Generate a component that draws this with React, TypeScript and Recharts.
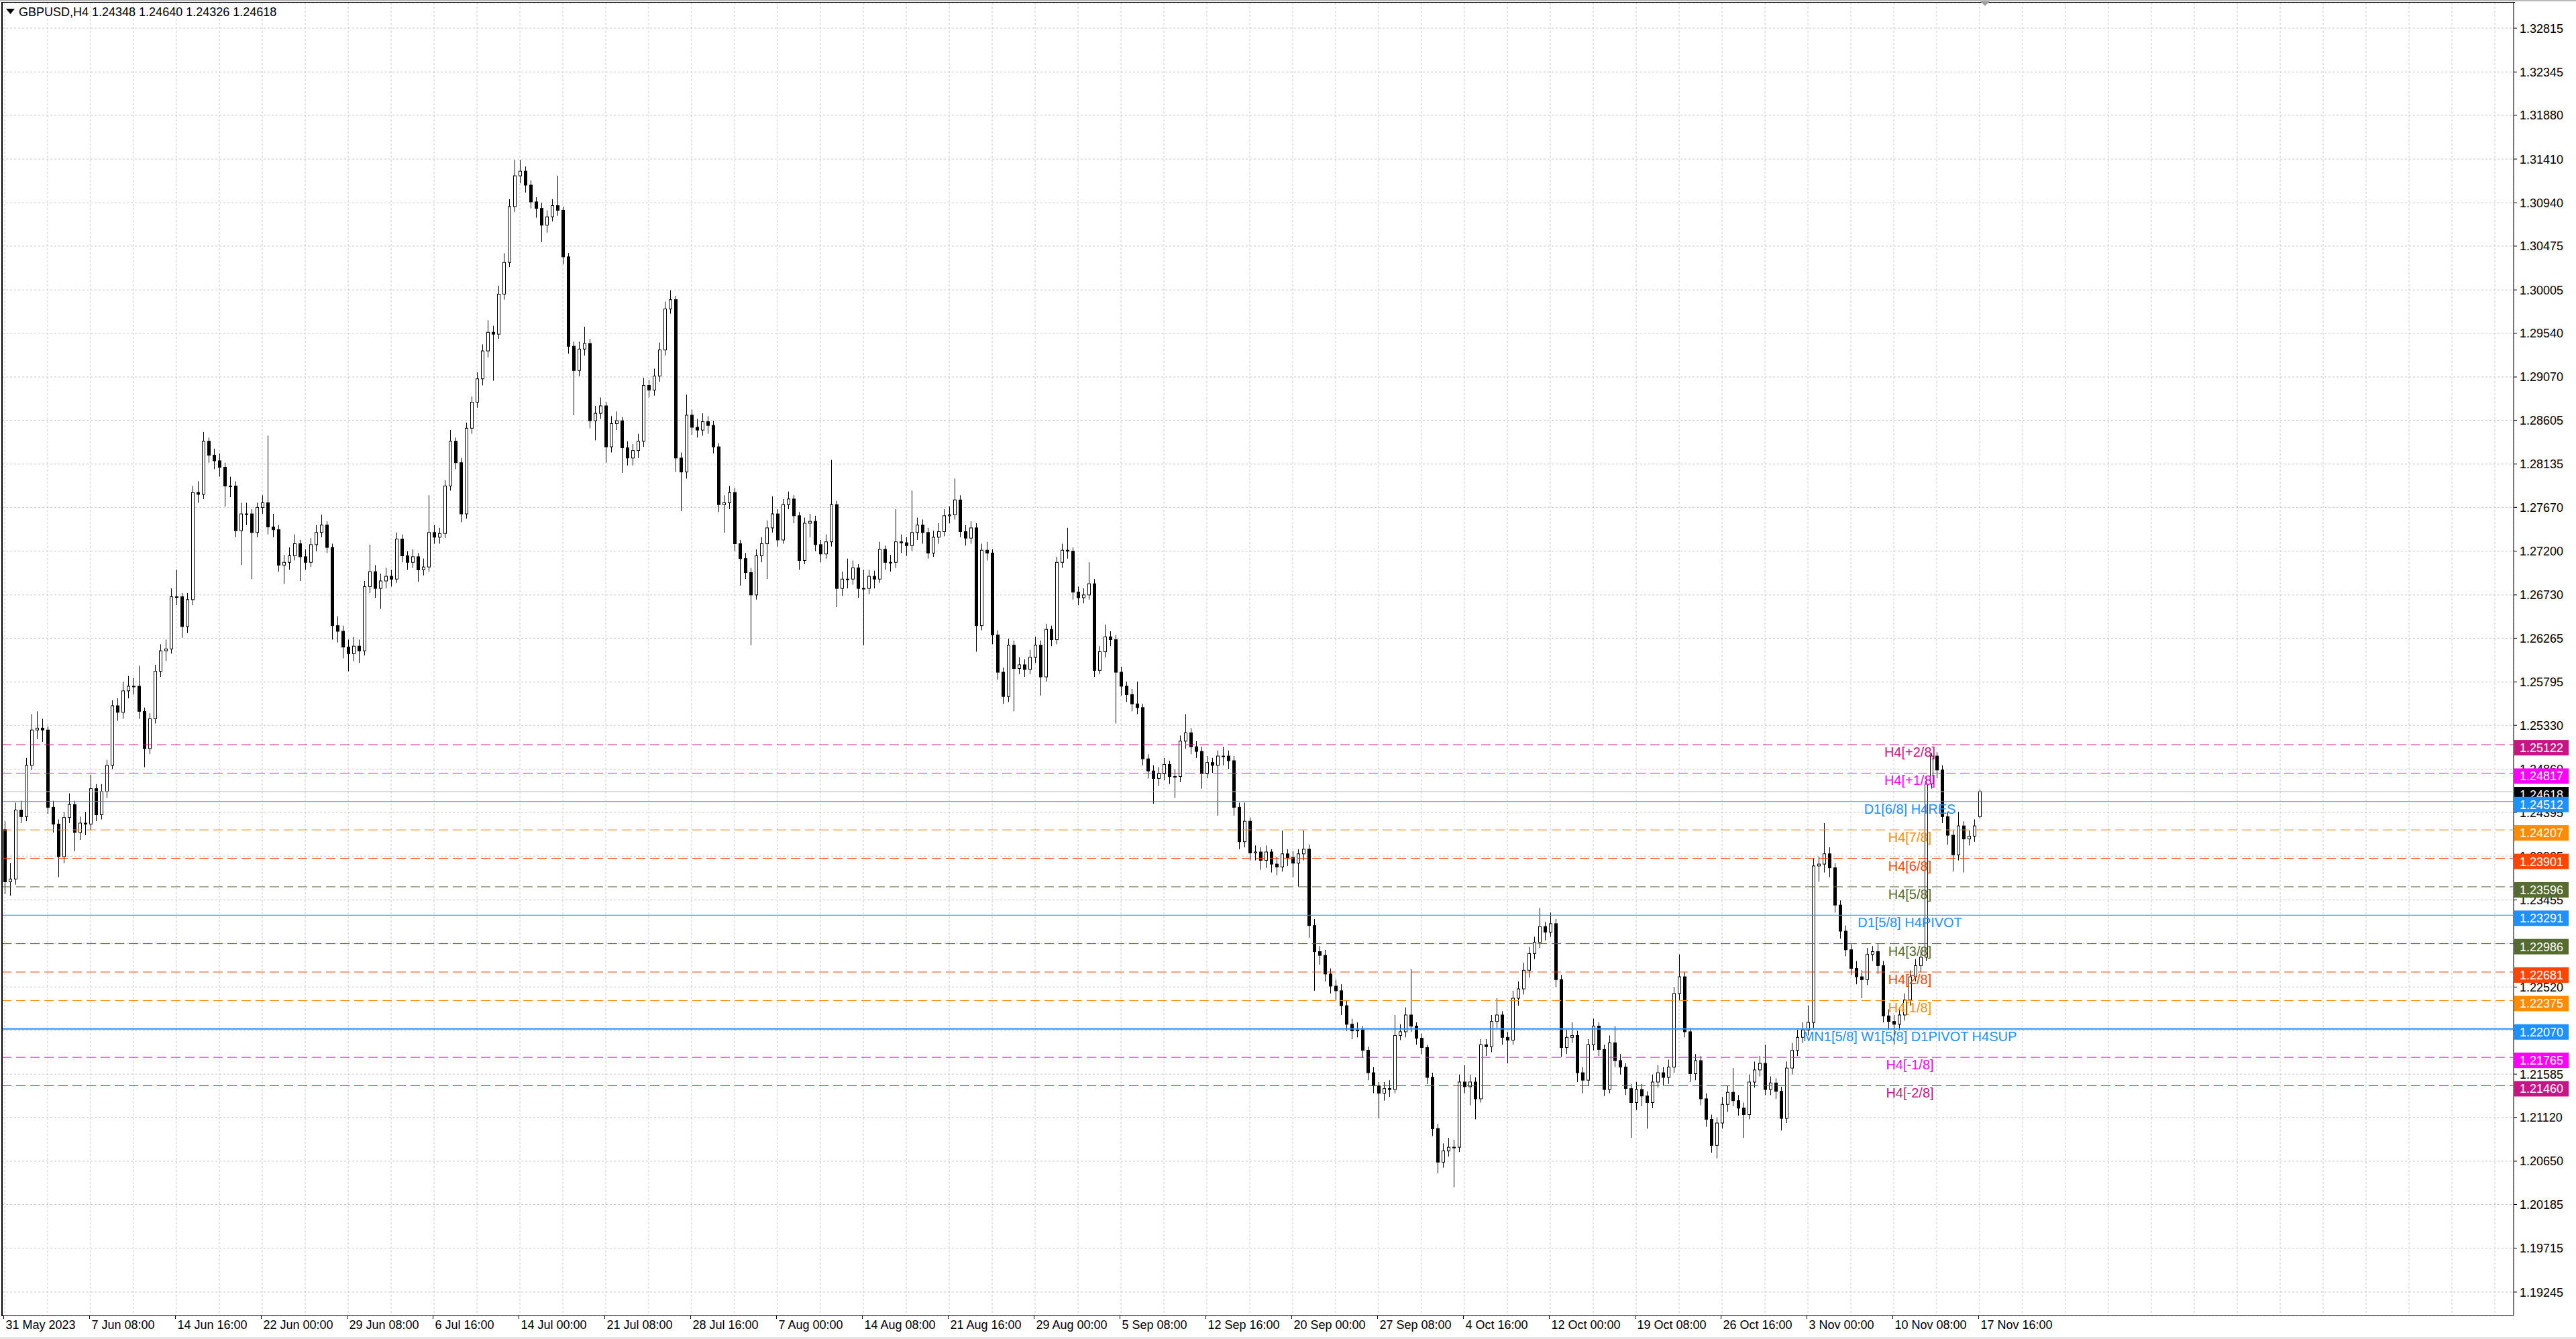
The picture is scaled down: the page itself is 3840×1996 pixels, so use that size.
import React from 'react';
import {
  ComposedChart,
  Bar,
  XAxis,
  YAxis,
  CartesianGrid,
  ReferenceLine,
} from 'recharts';

// GBPUSD H4, 31 May - 17 Nov 2023. Each candle here spans two H4 bars.
// Prices are in 1/10000 (12421 -> 1.2421).
const opens = [
  12421, 12365, 12368, 12442, 12435, 12490, 12528, 12530, 12528, 12445,
  12427, 12392, 12434, 12448, 12418, 12428, 12427, 12465, 12437, 12462,
  12490, 12554, 12547, 12570, 12575, 12575, 12548, 12508, 12540, 12591,
  12613, 12615, 12671, 12671, 12639, 12668, 12783, 12781, 12838, 12823,
  12817, 12810, 12790, 12790, 12742, 12760, 12760, 12740, 12767, 12772,
  12746, 12743, 12705, 12708, 12715, 12728, 12714, 12708, 12727, 12740,
  12748, 12724, 12640, 12634, 12617, 12610, 12618, 12613, 12682, 12698,
  12680, 12688, 12693, 12690, 12733, 12715, 12708, 12714, 12700, 12703,
  12740, 12735, 12739, 12790, 12838, 12815, 12760, 12852, 12880, 12905,
  12935, 12955, 12953, 12996, 13030, 13090, 13123, 13128, 13113, 13095,
  13088, 13070, 13079, 13091, 13086, 13036, 12940, 12914, 12937, 12943,
  12860, 12868, 12876, 12832, 12857, 12860, 12831, 12820, 12828, 12838,
  12898, 12893, 12908, 12936, 12980, 12990, 12820, 12805, 12866, 12853,
  12850, 12859, 12855, 12832, 12770, 12772, 12783, 12728, 12712, 12697,
  12673, 12715, 12728, 12745, 12760, 12732, 12770, 12776, 12758, 12710,
  12750, 12752, 12727, 12717, 12730, 12770, 12680, 12690, 12690, 12702,
  12680, 12680, 12693, 12690, 12722, 12708, 12708, 12730, 12729, 12726,
  12740, 12748, 12740, 12718, 12735, 12741, 12758, 12759, 12775, 12741,
  12734, 12745, 12640, 12721, 12718, 12630, 12590, 12564, 12619, 12594,
  12598, 12593, 12606, 12619, 12585, 12636, 12625, 12708, 12721, 12720,
  12676, 12670, 12673, 12685, 12592, 12612, 12628, 12625, 12590, 12575,
  12566, 12556, 12552, 12497, 12484, 12476, 12481, 12491, 12478, 12478,
  12516, 12525, 12510, 12505, 12481, 12493, 12490, 12500, 12500, 12495,
  12445, 12408, 12430, 12396, 12397, 12388, 12397, 12384, 12381, 12395,
  12391, 12385, 12395, 12400, 12318, 12290, 12286, 12266, 12253, 12248,
  12232, 12212, 12205, 12206, 12184, 12160, 12146, 12138, 12143, 12142,
  12200, 12204, 12222, 12210, 12197, 12187, 12155, 12100, 12064, 12076,
  12080, 12080, 12150, 12145, 12150, 12132, 12190, 12188, 12215, 12222,
  12198, 12195, 12240, 12250, 12270, 12288, 12300, 12317, 12311, 12320,
  12260, 12187, 12198, 12200, 12160, 12152, 12190, 12210, 12185, 12142,
  12192, 12173, 12166, 12143, 12128, 12142, 12135, 12128, 12150, 12160,
  12155, 12166, 12245, 12263, 12204, 12159, 12173, 12132, 12110, 12082,
  12106, 12126, 12139, 12130, 12122, 12115, 12150, 12163, 12170, 12142,
  12149, 12140, 12111, 12165, 12184, 12198, 12206, 12214, 12382, 12384,
  12395, 12380, 12340, 12312, 12292, 12272, 12263, 12260, 12287, 12290,
  12275, 12221, 12215, 12212, 12222, 12238, 12263, 12275, 12284, 12470,
  12500, 12485, 12435, 12415, 12394, 12425, 12411, 12414, 12435,
];

const highs = [
  12430, 12385, 12450, 12452, 12498, 12545, 12548, 12540, 12532, 12452,
  12432, 12440, 12460, 12452, 12435, 12440, 12480, 12470, 12470, 12496,
  12560, 12562, 12580, 12586, 12584, 12597, 12552, 12546, 12598, 12620,
  12625, 12680, 12700, 12675, 12675, 12790, 12795, 12848, 12842, 12830,
  12825, 12815, 12800, 12795, 12772, 12772, 12765, 12772, 12780, 12844,
  12760, 12748, 12716, 12724, 12738, 12732, 12722, 12734, 12748, 12759,
  12752, 12728, 12650, 12640, 12625, 12628, 12625, 12688, 12727, 12705,
  12696, 12702, 12700, 12740, 12738, 12720, 12722, 12718, 12712, 12780,
  12748, 12745, 12796, 12850, 12842, 12820, 12858, 12886, 12912, 12942,
  12968, 12962, 13005, 13040, 13098, 13140, 13140, 13133, 13118, 13100,
  13094, 13086, 13098, 13123, 13090, 13040, 12945, 12945, 12961, 12948,
  12876, 12885, 12880, 12865, 12870, 12864, 12838, 12835, 12846, 12906,
  12904, 12916, 12944, 12988, 13000, 12994, 12826, 12888, 12872, 12862,
  12868, 12865, 12860, 12836, 12780, 12790, 12788, 12732, 12718, 12702,
  12722, 12735, 12753, 12779, 12765, 12776, 12784, 12780, 12762, 12756,
  12760, 12758, 12732, 12738, 12818, 12774, 12698, 12712, 12710, 12706,
  12700, 12700, 12699, 12730, 12726, 12716, 12765, 12738, 12735, 12785,
  12756, 12754, 12745, 12742, 12750, 12765, 12768, 12798, 12780, 12748,
  12752, 12750, 12728, 12730, 12722, 12635, 12595, 12626, 12624, 12606,
  12604, 12614, 12628, 12624, 12642, 12640, 12714, 12728, 12745, 12724,
  12682, 12680, 12708, 12690, 12618, 12641, 12634, 12630, 12596, 12580,
  12572, 12580, 12556, 12502, 12490, 12488, 12498, 12495, 12486, 12522,
  12545, 12530, 12516, 12510, 12500, 12498, 12506, 12510, 12506, 12500,
  12450, 12450, 12434, 12404, 12402, 12404, 12400, 12392, 12420, 12400,
  12398, 12400, 12420, 12405, 12325, 12296, 12292, 12272, 12260, 12255,
  12238, 12218, 12214, 12210, 12188, 12166, 12150, 12150, 12152, 12222,
  12212, 12230, 12271, 12214, 12202, 12190, 12160, 12105, 12084, 12090,
  12088, 12158, 12168, 12158, 12155, 12196, 12196, 12222, 12240, 12226,
  12204, 12248, 12258, 12278, 12295, 12306, 12337, 12322, 12332, 12325,
  12265, 12206, 12214, 12205, 12166, 12196, 12218, 12214, 12190, 12200,
  12210, 12180, 12170, 12148, 12150, 12148, 12140, 12158, 12168, 12166,
  12174, 12252, 12287, 12268, 12208, 12180, 12178, 12138, 12115, 12112,
  12134, 12146, 12165, 12136, 12128, 12158, 12172, 12178, 12190, 12156,
  12154, 12145, 12172, 12192, 12206, 12214, 12232, 12390, 12392, 12428,
  12402, 12385, 12345, 12318, 12298, 12280, 12270, 12294, 12296, 12298,
  12280, 12228, 12222, 12230, 12245, 12270, 12282, 12292, 12478, 12503,
  12504, 12490, 12440, 12420, 12440, 12430, 12420, 12432, 12464,
];

const lows = [
  12352, 12350, 12362, 12428, 12430, 12485, 12518, 12515, 12438, 12418,
  12370, 12385, 12428, 12398, 12410, 12415, 12420, 12430, 12432, 12455,
  12486, 12538, 12540, 12562, 12566, 12540, 12488, 12502, 12535, 12585,
  12602, 12610, 12662, 12627, 12632, 12662, 12772, 12776, 12815, 12808,
  12800, 12768, 12778, 12735, 12705, 12748, 12690, 12735, 12760, 12738,
  12735, 12698, 12685, 12700, 12710, 12688, 12700, 12703, 12720, 12735,
  12718, 12625, 12622, 12605, 12591, 12602, 12600, 12608, 12675, 12670,
  12658, 12680, 12682, 12686, 12708, 12700, 12702, 12687, 12694, 12698,
  12728, 12728, 12734, 12785, 12808, 12751, 12755, 12846, 12874, 12898,
  12928, 12903, 12948, 12990, 13025, 13084, 13115, 13105, 13088, 13078,
  13052, 13062, 13074, 13080, 13028, 12932, 12866, 12908, 12930, 12852,
  12839, 12862, 12815, 12826, 12850, 12804, 12812, 12812, 12820, 12832,
  12885, 12887, 12902, 12930, 12975, 12805, 12763, 12798, 12845, 12842,
  12844, 12846, 12825, 12762, 12740, 12765, 12720, 12683, 12690, 12619,
  12668, 12708, 12690, 12740, 12725, 12728, 12765, 12750, 12700, 12706,
  12735, 12720, 12708, 12712, 12725, 12660, 12672, 12680, 12684, 12670,
  12619, 12674, 12680, 12686, 12700, 12698, 12702, 12718, 12715, 12720,
  12732, 12728, 12712, 12714, 12728, 12736, 12750, 12754, 12735, 12726,
  12728, 12612, 12635, 12710, 12620, 12582, 12556, 12558, 12548, 12588,
  12585, 12588, 12600, 12565, 12580, 12618, 12620, 12702, 12712, 12668,
  12662, 12664, 12668, 12585, 12588, 12606, 12618, 12535, 12565, 12558,
  12548, 12545, 12490, 12476, 12449, 12468, 12474, 12470, 12455, 12472,
  12508, 12502, 12498, 12465, 12476, 12482, 12436, 12490, 12486, 12436,
  12400, 12402, 12388, 12388, 12378, 12380, 12375, 12372, 12376, 12382,
  12370, 12360, 12388, 12305, 12248, 12276, 12258, 12245, 12238, 12222,
  12205, 12196, 12198, 12176, 12152, 12138, 12111, 12130, 12134, 12138,
  12195, 12198, 12204, 12190, 12180, 12148, 12092, 12052, 12058, 12070,
  12037, 12075, 12138, 12125, 12110, 12128, 12178, 12182, 12208, 12190,
  12170, 12190, 12232, 12244, 12262, 12282, 12294, 12302, 12306, 12252,
  12177, 12180, 12192, 12150, 12138, 12146, 12184, 12178, 12135, 12138,
  12166, 12158, 12136, 12090, 12120, 12124, 12100, 12122, 12144, 12146,
  12148, 12160, 12238, 12198, 12150, 12152, 12125, 12102, 12074, 12068,
  12100, 12118, 12124, 12114, 12090, 12110, 12144, 12156, 12136, 12136,
  12132, 12098, 12106, 12158, 12178, 12192, 12200, 12208, 12365, 12375,
  12370, 12332, 12304, 12285, 12265, 12255, 12240, 12254, 12280, 12266,
  12214, 12206, 12190, 12206, 12216, 12232, 12258, 12268, 12280, 12465,
  12476, 12428, 12405, 12376, 12388, 12375, 12404, 12408, 12433,
];

const closes = [
  12365, 12368, 12442, 12435, 12490, 12528, 12530, 12528, 12445, 12427,
  12392, 12434, 12448, 12418, 12428, 12427, 12465, 12437, 12462, 12490,
  12554, 12547, 12570, 12575, 12575, 12548, 12508, 12540, 12591, 12613,
  12615, 12671, 12671, 12639, 12668, 12783, 12781, 12838, 12823, 12817,
  12810, 12790, 12790, 12742, 12760, 12760, 12740, 12767, 12772, 12746,
  12743, 12705, 12708, 12715, 12728, 12714, 12708, 12727, 12740, 12748,
  12724, 12640, 12634, 12617, 12610, 12618, 12613, 12682, 12698, 12680,
  12688, 12693, 12690, 12733, 12715, 12708, 12714, 12700, 12703, 12740,
  12735, 12739, 12790, 12838, 12815, 12760, 12852, 12880, 12905, 12935,
  12955, 12953, 12996, 13030, 13090, 13123, 13128, 13113, 13095, 13088,
  13070, 13079, 13091, 13086, 13036, 12940, 12914, 12937, 12943, 12860,
  12868, 12876, 12832, 12857, 12860, 12831, 12820, 12828, 12838, 12898,
  12893, 12908, 12936, 12980, 12990, 12820, 12805, 12866, 12853, 12850,
  12859, 12855, 12832, 12770, 12772, 12783, 12728, 12712, 12697, 12673,
  12715, 12728, 12745, 12760, 12732, 12770, 12776, 12758, 12710, 12750,
  12752, 12727, 12717, 12730, 12770, 12680, 12690, 12690, 12702, 12680,
  12680, 12693, 12690, 12722, 12708, 12708, 12730, 12729, 12726, 12740,
  12748, 12740, 12718, 12735, 12741, 12758, 12759, 12775, 12741, 12734,
  12745, 12640, 12721, 12718, 12630, 12590, 12564, 12619, 12594, 12598,
  12593, 12606, 12619, 12585, 12636, 12625, 12708, 12721, 12720, 12676,
  12670, 12673, 12685, 12592, 12612, 12628, 12625, 12590, 12575, 12566,
  12556, 12552, 12497, 12484, 12476, 12481, 12491, 12478, 12478, 12516,
  12525, 12510, 12505, 12481, 12493, 12490, 12500, 12500, 12495, 12445,
  12408, 12430, 12396, 12397, 12388, 12397, 12384, 12381, 12395, 12391,
  12385, 12395, 12400, 12318, 12290, 12286, 12266, 12253, 12248, 12232,
  12212, 12205, 12206, 12184, 12160, 12146, 12138, 12143, 12142, 12200,
  12204, 12222, 12210, 12197, 12187, 12155, 12100, 12064, 12076, 12080,
  12080, 12150, 12145, 12150, 12132, 12190, 12188, 12215, 12222, 12198,
  12195, 12240, 12250, 12270, 12288, 12300, 12317, 12311, 12320, 12260,
  12187, 12198, 12200, 12160, 12152, 12190, 12210, 12185, 12142, 12192,
  12173, 12166, 12143, 12128, 12142, 12135, 12128, 12150, 12160, 12155,
  12166, 12245, 12263, 12204, 12159, 12173, 12132, 12110, 12082, 12106,
  12126, 12139, 12130, 12122, 12115, 12150, 12163, 12170, 12142, 12149,
  12140, 12111, 12165, 12184, 12198, 12206, 12214, 12382, 12384, 12395,
  12380, 12340, 12312, 12292, 12272, 12263, 12260, 12287, 12290, 12275,
  12221, 12215, 12212, 12222, 12238, 12263, 12275, 12284, 12470, 12500,
  12485, 12435, 12415, 12394, 12425, 12411, 12414, 12425, 12462,
];

const timeLabels = [
  '31 May 2023', '7 Jun 08:00', '14 Jun 16:00', '22 Jun 00:00', '29 Jun 08:00',
  '6 Jul 16:00', '14 Jul 00:00', '21 Jul 08:00', '28 Jul 16:00', '7 Aug 00:00',
  '14 Aug 08:00', '21 Aug 16:00', '29 Aug 00:00', '5 Sep 08:00', '12 Sep 16:00',
  '20 Sep 00:00', '27 Sep 08:00', '4 Oct 16:00', '12 Oct 00:00', '19 Oct 08:00',
  '26 Oct 16:00', '3 Nov 00:00', '10 Nov 08:00', '17 Nov 16:00',
];

const priceTicks = [
  1.32815, 1.32345, 1.3188, 1.3141, 1.3094, 1.30475, 1.30005, 1.2954, 1.2907, 1.28605,
  1.28135, 1.2767, 1.272, 1.2673, 1.26265, 1.25795, 1.2533, 1.2486, 1.24395, 1.23925,
  1.23455, 1.2299, 1.2252, 1.2205, 1.21585, 1.2112, 1.2065, 1.20185, 1.19715, 1.19245,
];

const levelPrices = [
  1.25122, 1.24817, 1.24512, 1.24207, 1.23901, 1.23596, 1.23291,
  1.22986, 1.22681, 1.22375, 1.2207, 1.21765, 1.2146,
];
const levelNames = [
  'H4[+2/8]', 'H4[+1/8]', 'D1[6/8] H4RES', 'H4[7/8]', 'H4[6/8]', 'H4[5/8]', 'D1[5/8] H4PIVOT',
  'H4[3/8]', 'H4[2/8]', 'H4[1/8]', 'MN1[5/8] W1[5/8] D1PIVOT H4SUP', 'H4[-1/8]', 'H4[-2/8]',
];
const symbolHeader = 'GBPUSD,H4  1.24348 1.24640 1.24326 1.24618';
const lastPrice = 1.24618;

// look of each level line, same order as levelPrices
const levelLook = [
  { color: '#C71585', dash: '14 7', width: 1 },
  { color: '#FF00FF', dash: '14 7', width: 1 },
  { color: '#1E90FF', dash: undefined, width: 1 },
  { color: '#FF8C00', dash: '14 7', width: 1 },
  { color: '#FF4500', dash: '14 7', width: 1 },
  { color: '#556B2F', dash: '14 7', width: 1 },
  { color: '#1E90FF', dash: undefined, width: 1 },
  { color: '#556B2F', dash: '14 7', width: 1 },
  { color: '#FF4500', dash: '14 7', width: 1 },
  { color: '#FF8C00', dash: '14 7', width: 1 },
  { color: '#1E90FF', dash: undefined, width: 2 },
  { color: '#FF00FF', dash: '14 7', width: 1 },
  { color: '#C71585', dash: '14 7', width: 1 },
];

const W = 3840;
const H = 1996;
const SLOT_COUNT = 468;
const LABEL_SLOT = 355;
const Y_DOMAIN: [number, number] = [1.18993, 1.33089];
const FONT = '"Liberation Sans", Arial, sans-serif';

const chartData = Array.from({ length: SLOT_COUNT }, (_, i) =>
  i < closes.length
    ? {
        i,
        range: [lows[i] / 10000, highs[i] / 10000],
        o: opens[i] / 10000,
        hi: highs[i] / 10000,
        lo: lows[i] / 10000,
        c: closes[i] / 10000,
      }
    : { i, range: null }
);

const gridSlots = Array.from({ length: Math.ceil(SLOT_COUNT / 8) }, (_, j) => j * 8);

const Candle = (props: any) => {
  const { x, y, width, height, payload } = props;
  if (!payload || payload.o == null) return null;
  const top = Math.min(y, y + height);
  const h = Math.abs(height);
  const span = payload.hi - payload.lo || 1;
  const py = (v: number) => top + ((payload.hi - v) / span) * h;
  const bx = Math.round(x);
  const yo = py(payload.o);
  const yc = py(payload.c);
  const bodyTop = Math.min(yo, yc);
  const bodyH = Math.max(Math.abs(yc - yo), 1);
  const up = payload.c >= payload.o;
  return (
    <g>
      <line x1={bx + 2.5} x2={bx + 2.5} y1={top} y2={top + h} stroke="#000" strokeWidth={1} />
      <rect
        x={bx + 0.5}
        y={bodyTop}
        width={Math.max(width - 1, 1)}
        height={bodyH}
        fill={up ? '#fff' : '#000'}
        stroke="#000"
        strokeWidth={1}
      />
    </g>
  );
};

const TimeTick = (props: any) => {
  const { x, y, payload } = props;
  const slot = payload.value;
  if (slot % 16 !== 0) return null;
  const label = timeLabels[slot / 16];
  if (!label) return null;
  const tx = Math.round(x - 2) + 0.5;
  return (
    <g>
      <line x1={tx} x2={tx} y1={y} y2={y + 5} stroke="#000" />
      <text x={tx + 3} y={y + 20} fontSize={18} fontFamily={FONT} fill="#000">
        {label}
      </text>
    </g>
  );
};

const PriceTick = (props: any) => {
  const { x, y, payload } = props;
  return (
    <g>
      <line x1={x} x2={x + 5} y1={y} y2={y} stroke="#000" />
      <text x={x + 9} y={y + 6.5} fontSize={18} fontFamily={FONT} fill="#000">
        {Number(payload.value).toFixed(5)}
      </text>
    </g>
  );
};

const LevelTag = (props: any) => {
  const { viewBox, price, color, name } = props;
  if (!viewBox) return null;
  const right = viewBox.x + viewBox.width;
  const ly = viewBox.y;
  const textX = viewBox.x + ((LABEL_SLOT + 0.5) * viewBox.width) / SLOT_COUNT;
  return (
    <g>
      {name && (
        <text
          x={textX}
          y={ly + 18}
          textAnchor="middle"
          fontSize={20}
          fontFamily={FONT}
          fill={color}
        >
          {name}
        </text>
      )}
      <rect x={right + 1} y={ly - 7} width={81} height={23} fill={color} />
      <text x={right + 9} y={ly + 11} fontSize={18} fontFamily={FONT} fill="#fff">
        {price.toFixed(5)}
      </text>
    </g>
  );
};

export default function App() {
  return (
    <div
      style={{
        position: 'absolute',
        left: 0,
        top: 0,
        width: W,
        height: H,
        background: '#fff',
        overflow: 'hidden',
      }}
    >
      <div style={{ position: 'absolute', left: 0, top: 0, width: W, height: 2, background: '#b8b8b8' }} />
      <div style={{ position: 'absolute', left: 0, top: H - 3, width: W, height: 3, background: '#e4e4e4' }} />
      {/* price chart: grid, axes, candles */}
      <div style={{ position: 'absolute', left: 0, top: 0 }}>
        <ComposedChart
          width={W}
          height={H}
          data={chartData}
          margin={{ top: 4, right: 0, bottom: 0, left: 3 }}
          barCategoryGap={0}
        >
          <CartesianGrid stroke="#c8c8c8" strokeDasharray="3 3" />
          <XAxis
            dataKey="i"
            type="category"
            ticks={gridSlots}
            interval={0}
            height={35}
            tickLine={false}
            tickSize={0}
            tickMargin={0}
            axisLine={{ stroke: '#000' }}
            tick={<TimeTick />}
          />
          <YAxis
            orientation="right"
            type="number"
            domain={Y_DOMAIN}
            allowDataOverflow
            ticks={priceTicks}
            interval={0}
            width={93}
            tickLine={false}
            tickSize={0}
            tickMargin={0}
            axisLine={{ stroke: '#000' }}
            tick={<PriceTick />}
          />
          <Bar dataKey="range" barSize={5} isAnimationActive={false} shape={<Candle />} />
        </ComposedChart>
      </div>
      {/* level lines and their tags, layered over the axis labels */}
      <div style={{ position: 'absolute', left: 0, top: 0, pointerEvents: 'none' }}>
        <ComposedChart
          width={W}
          height={H}
          data={chartData}
          margin={{ top: 4, right: 93, bottom: 35, left: 3 }}
        >
          <XAxis dataKey="i" type="category" hide />
          <YAxis type="number" domain={Y_DOMAIN} allowDataOverflow hide />
          <ReferenceLine
            y={lastPrice}
            stroke="#b4b4b4"
            strokeWidth={1}
            label={<LevelTag price={lastPrice} color="#000" name="" />}
          />
          {levelPrices.map((p, idx) => (
            <ReferenceLine
              key={p}
              y={p}
              stroke={levelLook[idx].color}
              strokeWidth={levelLook[idx].width}
              strokeDasharray={levelLook[idx].dash}
              label={<LevelTag price={p} color={levelLook[idx].color} name={levelNames[idx]} />}
            />
          ))}
        </ComposedChart>
      </div>
      <div
        style={{
          position: 'absolute',
          left: 2,
          top: 3,
          width: 3745,
          height: 1958,
          borderLeft: '2px solid #000',
          borderTop: '1px solid #000',
          pointerEvents: 'none',
        }}
      />
      <svg
        style={{ position: 'absolute', left: 0, top: 0, pointerEvents: 'none' }}
        width={W}
        height={40}
      >
        <polygon points="9,13 22,13 15.5,21" fill="#000" />
        <polygon points="2952,2 2966,2 2959,9" fill="#a0a0a0" />
        <text x={28} y={24} fontSize={18} fontFamily={FONT} fill="#000">
          {symbolHeader}
        </text>
      </svg>
    </div>
  );
}
